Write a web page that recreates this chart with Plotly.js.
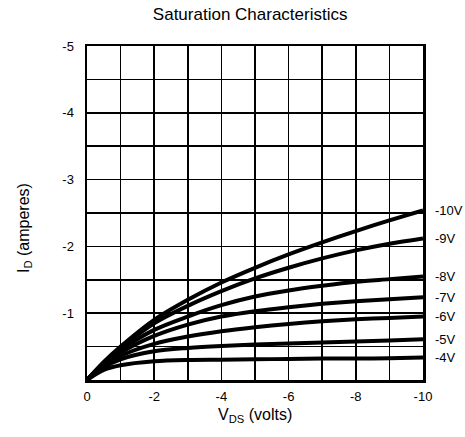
<!DOCTYPE html>
<html>
<head>
<meta charset="utf-8">
<script src="https://cdn.plot.ly/plotly-3.0.1.min.js"></script>
<style>html,body{margin:0;padding:0;background:#fff;}#chart{width:465px;height:437px;}</style>
</head>
<body>
<div id="chart"></div>
<script>
// Drain-source voltage (V)
const vds = [0, -0.5, -1, -2, -3, -4, -5, -6, -7, -8, -9, -10];
// Drain current (A) for each gate voltage
const id_m10 = [0, -0.27, -0.50, -0.90, -1.20, -1.46, -1.68, -1.88, -2.06, -2.23, -2.39, -2.54];
const id_m9  = [0, -0.26, -0.48, -0.85, -1.11, -1.33, -1.52, -1.68, -1.82, -1.94, -2.04, -2.12];
const id_m8  = [0, -0.25, -0.45, -0.75, -0.95, -1.12, -1.25, -1.34, -1.41, -1.47, -1.51, -1.55];
const id_m7  = [0, -0.23, -0.41, -0.66, -0.83, -0.95, -1.03, -1.09, -1.14, -1.18, -1.21, -1.24];
const id_m6  = [0, -0.21, -0.36, -0.54, -0.65, -0.73, -0.79, -0.84, -0.88, -0.91, -0.93, -0.95];
const id_m5  = [0, -0.19, -0.31, -0.43, -0.48, -0.51, -0.53, -0.545, -0.56, -0.575, -0.59, -0.61];
const id_m4  = [0, -0.15, -0.22, -0.28, -0.30, -0.305, -0.31, -0.315, -0.32, -0.32, -0.325, -0.335];
const seriesNames = ['-10V', '-9V', '-8V', '-7V', '-6V', '-5V', '-4V'];
const seriesVals = [id_m10, id_m9, id_m8, id_m7, id_m6, id_m5, id_m4];

const xTickVals = [0, -1, -2, -3, -4, -5, -6, -7, -8, -9, -10];
const xTickText = ['0', '', '-2', '', '-4', '', '-6', '', '-8', '', '-10'];
const yTickVals = [0, -0.5, -1, -1.5, -2, -2.5, -3, -3.5, -4, -4.5, -5];
const yTickText = ['', '', '-1', '', '-2', '', '-3', '', '-4', '', '-5'];

const FONT = 'Liberation Sans, Arial, Helvetica, sans-serif';

const traces = seriesVals.map((v, i) => ({
  x: vds, y: v, type: 'scatter', mode: 'lines', name: seriesNames[i],
  line: {color: '#000', width: 4, shape: 'spline', smoothing: 0.9},
  hoverinfo: 'skip'
}));

const annotations = seriesVals.map((v, i) => ({
  x: vds[vds.length - 1], y: v[v.length - 1], xref: 'x', yref: 'y',
  text: seriesNames[i], showarrow: false, xanchor: 'left', yanchor: 'middle',
  xshift: 10, font: {family: FONT, size: 13, color: '#000'}
}));
annotations.push({
  xref: 'paper', yref: 'paper', x: 0.5, y: 0, yanchor: 'top', xanchor: 'center',
  yshift: -24, showarrow: false, text: 'V<sub>DS</sub> (volts)',
  font: {family: FONT, size: 16, color: '#000'}
});
annotations.push({
  xref: 'paper', yref: 'paper', x: 0, y: 0.455, xanchor: 'center', yanchor: 'middle',
  xshift: -63, showarrow: false, textangle: -90, text: 'I<sub>D</sub> (amperes)',
  font: {family: FONT, size: 16, color: '#000'}
});

const layout = {
  width: 465, height: 437,
  margin: {l: 87, r: 42, t: 46, b: 57},
  paper_bgcolor: '#fff', plot_bgcolor: '#fff',
  showlegend: false,
  font: {family: FONT, size: 13, color: '#000'},
  title: {text: 'Saturation Characteristics', x: 0.538, xref: 'container', xanchor: 'center',
          y: 0.968, yref: 'container', yanchor: 'middle',
          font: {family: FONT, size: 17, color: '#000'}},
  xaxis: {range: [0, -10], tickmode: 'array', tickvals: xTickVals, ticktext: xTickText,
          showgrid: true, gridcolor: '#000', gridwidth: 1.6, zeroline: false,
          showline: true, mirror: true, linecolor: '#000', linewidth: 2.5,
          ticks: '', ticklabelstandoff: 3, tickfont: {family: FONT, size: 13, color: '#000'}},
  yaxis: {range: [0, -5], tickmode: 'array', tickvals: yTickVals, ticktext: yTickText,
          showgrid: true, gridcolor: '#000', gridwidth: 1.6, zeroline: false,
          showline: true, mirror: true, linecolor: '#000', linewidth: 2.5,
          ticks: '', ticklabelstandoff: 8, tickfont: {family: FONT, size: 13, color: '#000'}},
  annotations: annotations
};

Plotly.newPlot('chart', traces, layout, {staticPlot: true, displayModeBar: false});
</script>
</body>
</html>
